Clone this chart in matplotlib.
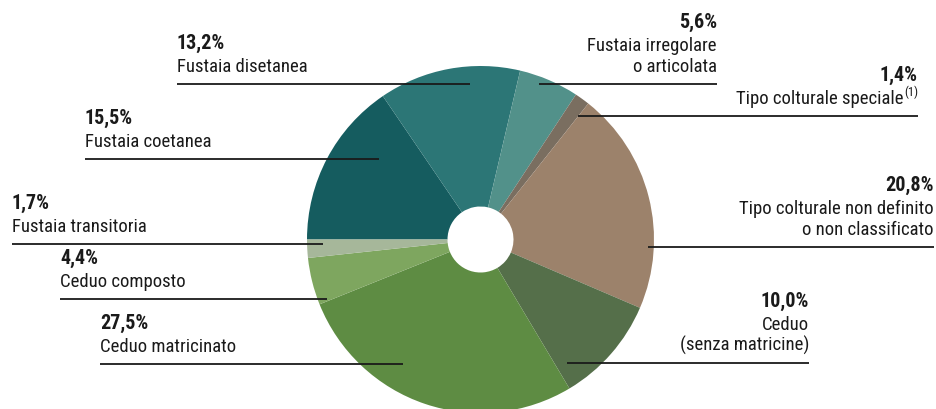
import matplotlib
matplotlib.use("Agg")
import matplotlib.pyplot as plt

# Data (clockwise from the 9 o'clock position)
categories = [
    "Fustaia coetanea",
    "Fustaia disetanea",
    "Fustaia irregolare\no articolata",
    "Tipo colturale speciale",
    "Tipo colturale non definito\no non classificato",
    "Ceduo\n(senza matricine)",
    "Ceduo matricinato",
    "Ceduo composto",
    "Fustaia transitoria",
]
footnotes = ["", "", "", "(1)", "", "", "", "", ""]
values = [15.5, 13.2, 5.6, 1.4, 20.8, 10.0, 27.5, 4.4, 1.7]
colors = ["#155c5f", "#2c7676", "#52918a", "#7a6e60", "#9c826b",
          "#556f4a", "#5e8c43", "#7ea65f", "#a6b79a"]

W, H = 937, 410
fig = plt.figure(figsize=(W / 100, H / 100), dpi=100)
ax = fig.add_axes([0, 0, 1, 1])

cx, cy = 480.5, H - 240.5
R, r_hole = 173.5, 33

ax.pie(values, colors=colors, startangle=180, counterclock=False,
       center=(cx, cy), radius=R, wedgeprops=dict(width=R - r_hole, linewidth=0),
       frame=True)
ax.set_xlim(0, W)
ax.set_ylim(0, H)
ax.set_aspect("equal")
ax.axis("off")

FAM = ["Roboto Condensed", "Roboto", "DejaVu Sans"]
FS_PCT = 14.5
FS_LAB = 13.5
TXT = "#1a1a1a"

renderer = fig.canvas.get_renderer()

# label layout: (x_text, align, line_y, line_x0, line_x1)
layout = [
    (85, "left", 160, 85, 379),
    (177, "left", 85, 177, 470),
    (717, "right", 85, 539, 717),
    (918, "right", 117, 578, 918),
    (934, "right", 248, 648, 934),
    (809, "right", 364, 567, 809),
    (100, "left", 365, 100, 403),
    (60, "left", 300, 60, 327),
    (12, "left", 245, 12, 323),
]

for cat, fn, val, (xt, ha, ly, lx0, lx1) in zip(categories, footnotes, values, layout):
    lines = cat.split("\n")
    base = ly - 13
    baselines = [base - 21 * (len(lines) - 1 - i) for i in range(len(lines))]
    pct_base = baselines[0] - 23
    pct = f"{val:.1f}".replace(".", ",") + "%"
    ax.text(xt, H - pct_base, pct, ha=ha, va="baseline", fontsize=FS_PCT,
            fontweight="bold", family=FAM, color=TXT)
    for k, (ln, b) in enumerate(zip(lines, baselines)):
        xl = xt
        if fn and k == len(lines) - 1:
            t = ax.text(xt, H - b + 8, fn, ha="right", va="baseline", fontsize=9,
                        family=FAM, color=TXT)
            bb = t.get_window_extent(renderer=renderer)
            xl = xt - bb.width - 0.5
        ax.text(xl, H - b, ln, ha=ha, va="baseline", fontsize=FS_LAB,
                family=FAM, color=TXT)
    ax.plot([lx0, lx1], [H - ly, H - ly], color=TXT, lw=1.3,
            solid_capstyle="butt")

fig.savefig("out.png", dpi=100)
